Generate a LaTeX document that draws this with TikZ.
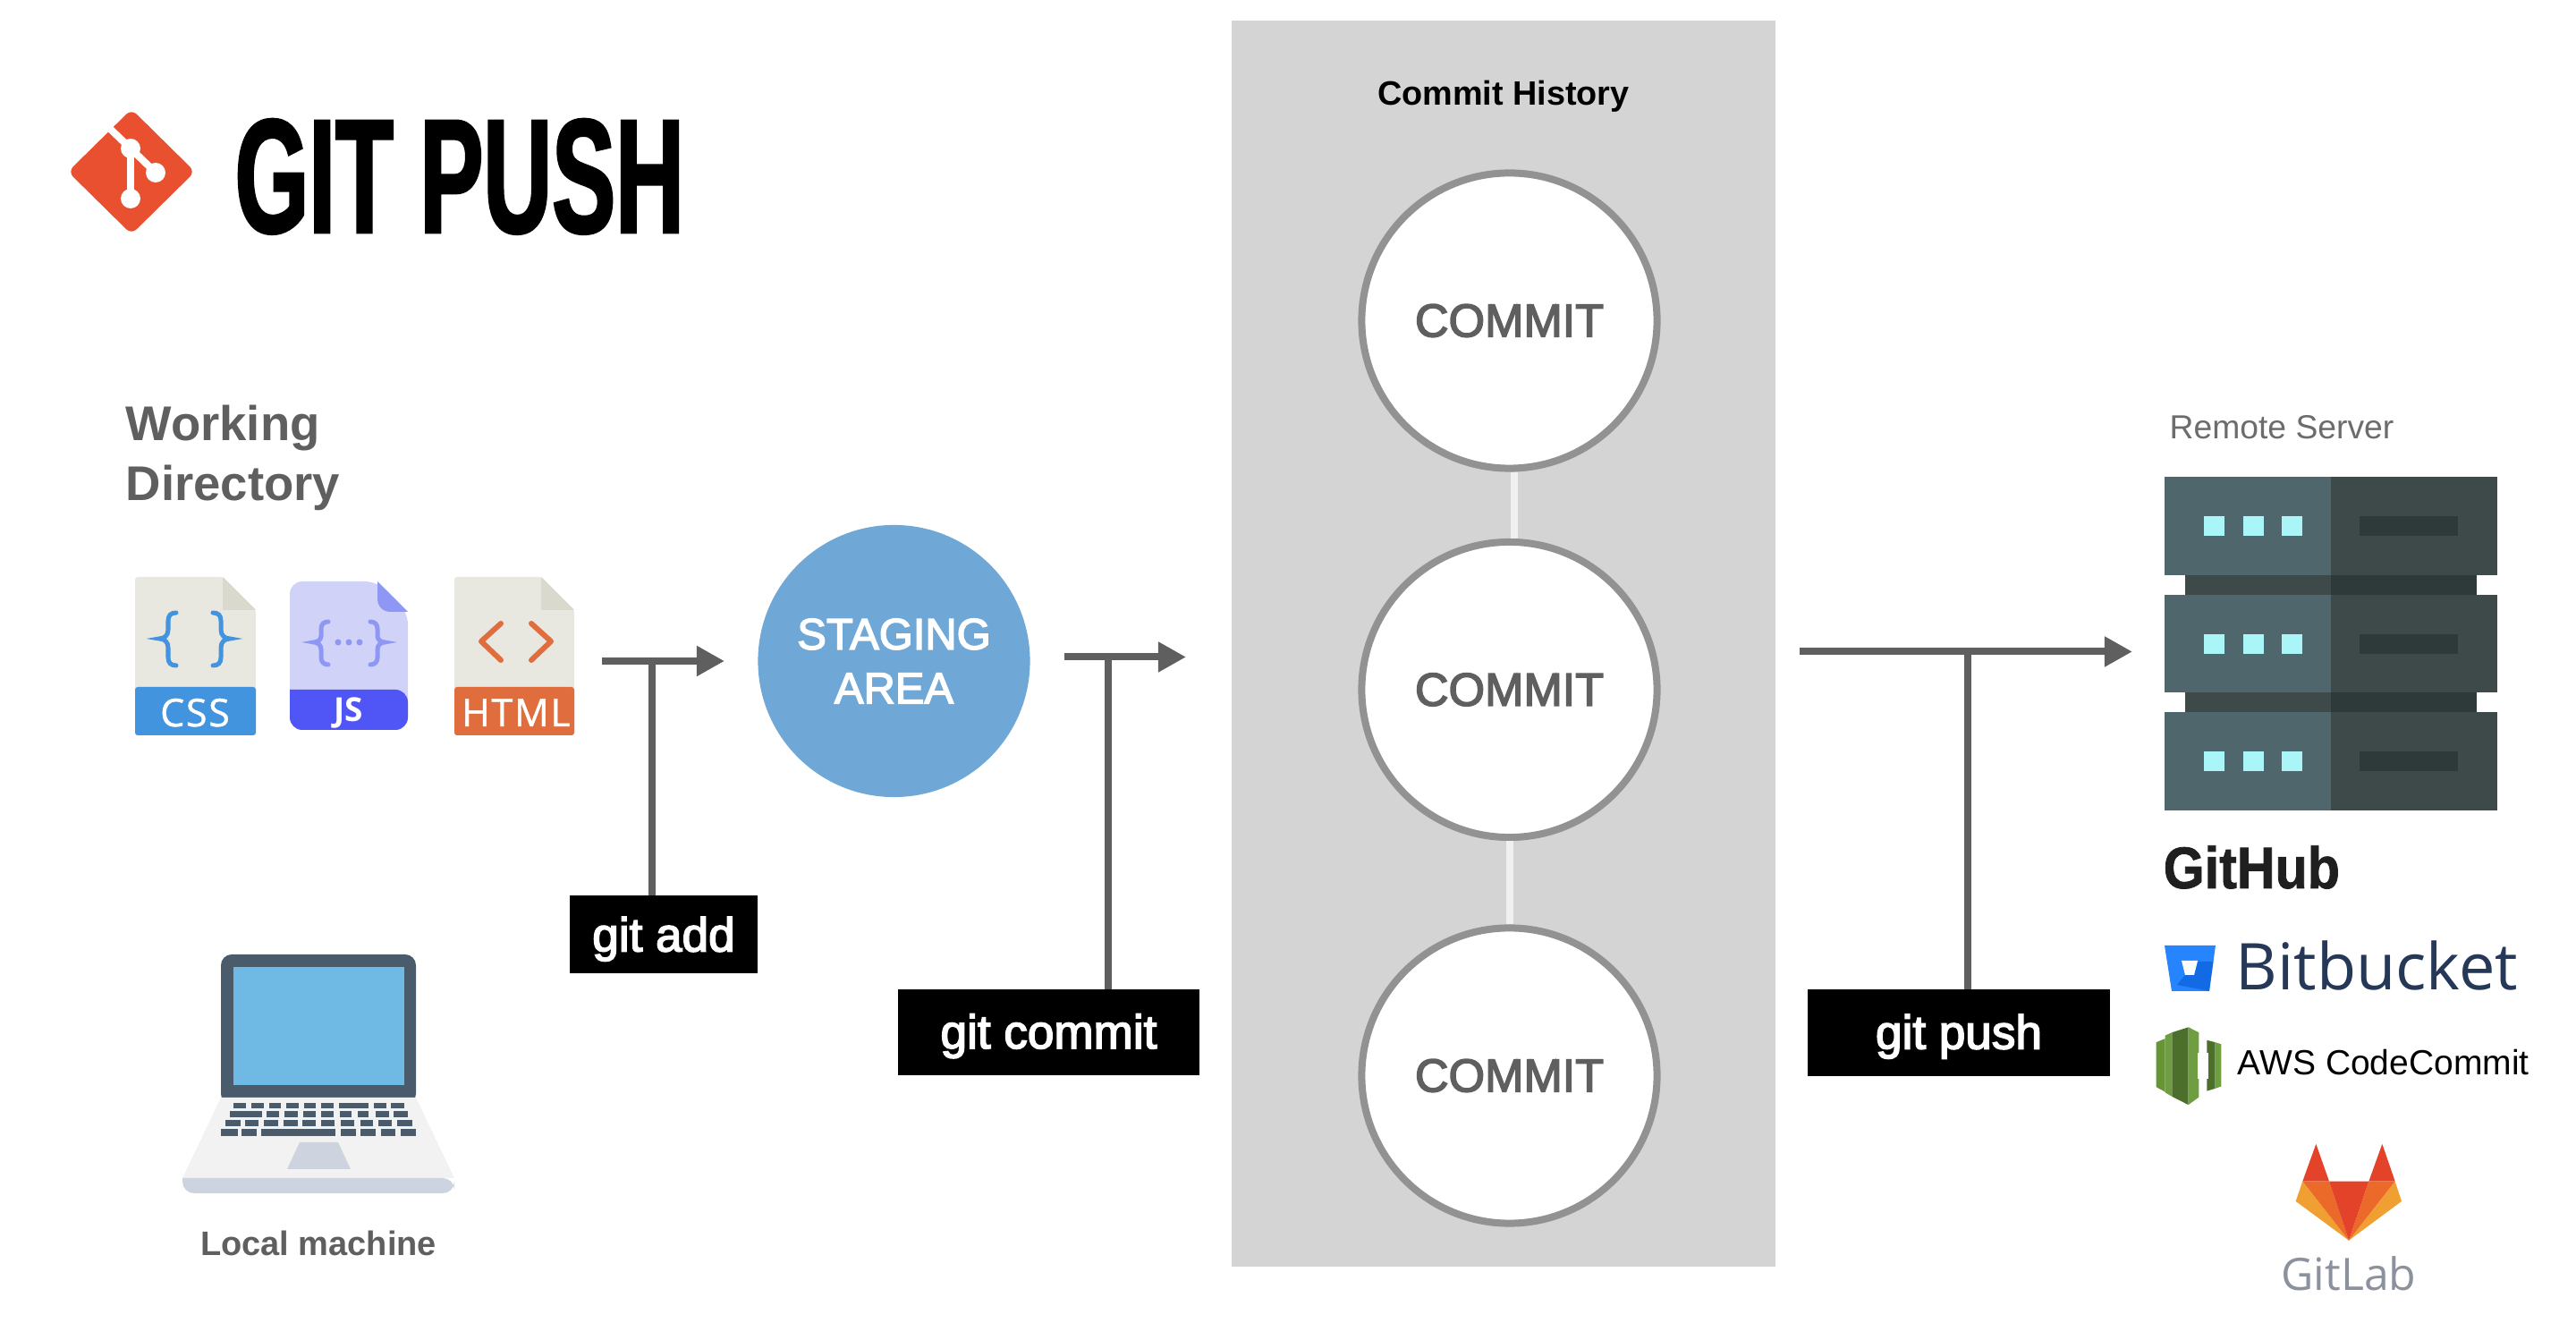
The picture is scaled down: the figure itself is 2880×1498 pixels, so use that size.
\documentclass[tikz,border=0pt]{standalone}
\usepackage{fontspec}
\setmainfont{Liberation Sans}
\newfontfamily\medfont[FakeBold=3]{Liberation Sans}
\newfontfamily\titlefont[FakeStretch=0.585,FakeBold=1.5]{Liberation Sans Bold}
\newfontfamily\hubfont[FakeStretch=0.9,FakeBold=1.2]{Liberation Sans Bold}
\newfontfamily\iconfont{Open Sans}
\newfontfamily\bandfont[LetterSpace=4,FakeBold=1]{Open Sans}
\usetikzlibrary{arrows.meta}
\definecolor{textgray}{HTML}{5F5F5F}
\definecolor{arrowgray}{HTML}{5F5F5F}
\definecolor{panelgray}{HTML}{D4D4D4}
\definecolor{ringgray}{HTML}{929292}
\definecolor{stageblue}{HTML}{6FA8D6}
\definecolor{gitred}{HTML}{E9502F}
\definecolor{filepaper}{HTML}{E8E8E1}
\definecolor{filefold}{HTML}{D9D9CE}
\definecolor{cssblue}{HTML}{4394DF}
\definecolor{htmlorange}{HTML}{DF6D3E}
\definecolor{jspaper}{HTML}{D0D2F7}
\definecolor{jsfold}{HTML}{8F97F5}
\definecolor{jsblue}{HTML}{5055F5}
\definecolor{laptopdark}{HTML}{4A5B6B}
\definecolor{laptopscreen}{HTML}{6FB9E5}
\definecolor{laptopbase}{HTML}{F2F2F2}
\definecolor{laptoplip}{HTML}{CDD4E0}
\definecolor{serverleft}{HTML}{50666D}
\definecolor{serverright}{HTML}{3E4A4A}
\definecolor{serverdark}{HTML}{2E3A3A}
\definecolor{serverlight}{HTML}{A9F5F8}
\definecolor{bitblue}{HTML}{2684FF}
\definecolor{bitdark}{HTML}{0052CC}
\definecolor{bitnavy}{HTML}{253858}
\definecolor{labred}{HTML}{E24329}
\definecolor{laborange}{HTML}{EB6A2A}
\definecolor{labyellow}{HTML}{F0A033}
\definecolor{labgray}{HTML}{8C929D}
\definecolor{awslight}{HTML}{6E9E3F}
\definecolor{awsmid}{HTML}{669536}
\definecolor{awsdark}{HTML}{4C6F2B}
\tikzset{
    commit/.style={circle, draw=ringgray, fill=white, line width=0.08cm, minimum size=3.30cm, inner sep=0pt,
        text=textgray, font=\medfont\fontsize{14.8}{18}\selectfont},
    commitlink/.style={draw=white!94!black, line width=0.08cm},
    gitbox/.style={fill=black, text=white, inner sep=0pt, text depth=0pt, font=\medfont\fontsize{15.1}{18}\selectfont},
    flow/.style={draw=arrowgray, line width=0.08cm, -{Triangle[length=0.31cm, width=0.32cm]}},
    stem/.style={draw=arrowgray, line width=0.08cm},
    heading/.style={anchor=base west, inner sep=0pt, text=textgray, font=\bfseries\fontsize{15.5}{19.1}\selectfont, align=left},
    bandtext/.style={anchor=base, inner sep=0pt, text=white, font=\bandfont\fontsize{12.2}{14}\selectfont},
    brace/.style={line width=0.05cm, line cap=round},
}
\begin{document}
\begin{tikzpicture}[x=0.01cm, y=-0.01cm]
    \useasboundingbox (0, 0) rectangle (2880, 1498);
    % title
    \fill[gitred, rounded corners=0.08cm] (147, 122) -- (218, 192) -- (147, 262) -- (76, 192) -- cycle;
    \draw[white, line width=0.08cm] (121, 142) -- (146, 166) -- (174, 193);
    \draw[white, line width=0.08cm] (146, 166) -- (146, 222);
    \fill[white] (146, 166) circle (11);
    \fill[white] (174, 193) circle (11);
    \fill[white] (146, 222) circle (11);
    \node[anchor=base west, inner sep=0pt, font=\titlefont\fontsize{51.7}{60}\selectfont] (title) at (262, 260) {GIT PUSH};
    % panel
    \node[fill=panelgray, inner sep=0pt, minimum width=6.08cm, minimum height=13.92cm] (panel) at (1681, 719.5) {};
    \node[anchor=base, inner sep=0pt, font=\bfseries\fontsize{10.75}{13}\selectfont] (historylabel) at (1681, 118) {Commit History};
    % commits
    \node[commit] (commita) at (1687.5, 358.5) {COMMIT};
    \node[commit] (commitb) at (1687.5, 771) {COMMIT};
    \node[commit] (commitc) at (1687.5, 1202.5) {COMMIT};
    \draw[commitlink] ([xshift=0.055cm]commita.south) -- ([xshift=0.055cm]commitb.north);
    \draw[commitlink] (commitb.south) -- (commitc.north);
    % working directory
    \node[heading] (workdir) at (140, 560) {Working\\Directory};
    % css file
    \fill[filepaper, rounded corners=0.03cm] (151, 645) -- (249, 645) -- (286, 682) -- (286, 822) -- (151, 822) -- cycle;
    \fill[filefold] (249, 645) -- (286, 682) -- (249, 682) -- cycle;
    \fill[cssblue, rounded corners=0.03cm] (151, 768) -- (286, 768) -- (286, 822) -- (151, 822) -- cycle;
    \draw[brace, cssblue] (197, 685) .. controls (191, 685) and (188, 688) .. (188, 694) -- (188, 704) .. controls (188, 710) and (184, 714) .. (178, 714) .. controls (184, 714) and (188, 718) .. (188, 724) -- (188, 735) .. controls (188, 741) and (191, 744) .. (197, 744);
    \draw[brace, cssblue] (238, 685) .. controls (244, 685) and (247, 688) .. (247, 694) -- (247, 704) .. controls (247, 710) and (251, 714) .. (257, 714) .. controls (251, 714) and (247, 718) .. (247, 724) -- (247, 735) .. controls (247, 741) and (244, 744) .. (238, 744);
    \node[bandtext] (csslabel) at (218, 812) {CSS};
    % js file
    \fill[jspaper, rounded corners=0.14cm] (324, 650) -- (422, 650) -- (456, 684) -- (456, 816) -- (324, 816) -- cycle;
    \fill[jsblue, rounded corners=0.14cm] (324, 771) -- (324, 816) -- (456, 816) -- (456, 771) [sharp corners] -- cycle;
    \fill[jsfold] (422, 650) -- (456, 684) -- (437, 684) .. controls (428, 684) and (422, 678) .. (422, 669) -- cycle;
    \draw[brace, jsfold] (367, 695) .. controls (362, 695) and (359, 698) .. (359, 703) -- (359, 711) .. controls (359, 715) and (355, 718) .. (351, 718) .. controls (355, 718) and (359, 721) .. (359, 726) -- (359, 735) .. controls (359, 740) and (362, 743) .. (367, 743);
    \draw[brace, jsfold] (414, 695) .. controls (419, 695) and (422, 698) .. (422, 703) -- (422, 711) .. controls (422, 715) and (426, 718) .. (430, 718) .. controls (426, 718) and (422, 721) .. (422, 726) -- (422, 735) .. controls (422, 740) and (419, 743) .. (414, 743);
    \foreach \dotx in {378, 390, 402} {
        \fill[jsfold] (\dotx, 718) circle (3.5);
    }
    \node[bandtext, font=\iconfont\bfseries\fontsize{10.5}{13}\selectfont] (jslabel) at (390, 807) {JS};
    % html file
    \fill[filepaper, rounded corners=0.03cm] (508, 645) -- (605, 645) -- (642, 682) -- (642, 822) -- (508, 822) -- cycle;
    \fill[filefold] (605, 645) -- (642, 682) -- (605, 682) -- cycle;
    \fill[htmlorange, rounded corners=0.03cm] (508, 768) -- (642, 768) -- (642, 822) -- (508, 822) -- cycle;
    \draw[htmlorange, line width=0.06cm, line cap=round, line join=round] (560, 697) -- (538, 717) -- (560, 738);
    \draw[htmlorange, line width=0.06cm, line cap=round, line join=round] (594, 697) -- (616, 717) -- (594, 738);
    \node[bandtext] (htmllabel) at (577, 812) {HTML};
    % staging area
    \node[circle, fill=stageblue, minimum size=3.04cm, inner sep=0pt, text=white, align=center,
        font=\medfont\fontsize{13.9}{17.2}\selectfont] (staging) at (999.5, 739) {STAGING\\AREA};
    % laptop
    \fill[laptopdark, rounded corners=0.12cm] (247, 1235) -- (247, 1067) -- (465, 1067) -- (465, 1235) -- cycle;
    \fill[laptopbase] (247, 1227) -- (465, 1227) -- (508, 1317) -- (204, 1317) -- cycle;
    \fill[laptopscreen] (261, 1081) rectangle (452, 1213);
    \fill[laptoplip, rounded corners=0.13cm] (204, 1317) -- (204, 1334) -- (508, 1334) -- (508, 1317) [sharp corners] -- cycle;
    \fill[laptoplip] (335, 1277) -- (378, 1277) -- (392, 1307) -- (321, 1307) -- cycle;
    \begin{scope}[shift={(180, 1050)}, scale=1/3]
        % keys
        \foreach \a/\b in {243/285, 303/345, 362/403, 420/462, 480/520, 537/578, 598/696, 714/755, 772/815} {
            \fill[laptopdark] (\a, 548) rectangle (\b, 568);
        }
        \foreach \a/\b in {232/338, 355/397, 415/458, 478/520, 537/580, 600/640, 660/697, 720/765, 780/828} {
            \fill[laptopdark] (\a, 577) rectangle (\b, 597);
        }
        \foreach \a/\b in {215/268, 283/328, 345/392, 410/458, 475/520, 537/583, 603/648, 668/712, 730/775, 792/842} {
            \fill[laptopdark] (\a, 606) rectangle (\b, 627);
        }
        \foreach \a/\b in {200/258, 270/322, 337/585, 603/653, 670/720, 738/787, 803/855} {
            \fill[laptopdark] (\a, 636) rectangle (\b, 660);
        }
    \end{scope}
    \node[anchor=base, inner sep=0pt, text=textgray, font=\bfseries\fontsize{10.8}{13}\selectfont] (locallabel) at (356, 1404) {Local machine};
    % commands
    \node[gitbox, minimum width=2.10cm, minimum height=0.86cm, text height=0.38cm] (gitadd) at (742, 1044.5) {git add};
    \node[gitbox, minimum width=3.37cm, minimum height=0.95cm, text height=0.36cm] (gitcommit) at (1172.5, 1154) {git commit};
    \node[gitbox, minimum width=3.385cm, minimum height=0.96cm, text height=0.36cm] (gitpush) at (2190, 1154.5) {git push};
    % arrows
    \coordinate (addstart) at (673, 739);
    \coordinate (addend) at (810, 739);
    \coordinate (addjoin) at (729, 739);
    \draw[flow] (addstart) -- (addend);
    \draw[stem] (addjoin) -- (addjoin |- gitadd.north);
    \coordinate (commitstart) at (1190, 734.5);
    \coordinate (commitend) at (1326, 734.5);
    \coordinate (commitjoin) at (1239, 734.5);
    \draw[flow] (commitstart) -- (commitend);
    \draw[stem] (commitjoin) -- (commitjoin |- gitcommit.north);
    \coordinate (pushstart) at (2012, 728.5);
    \coordinate (pushend) at (2384, 728.5);
    \coordinate (pushjoin) at (2199.5, 728.5);
    \draw[flow] (pushstart) -- (pushend);
    \draw[stem] (pushjoin) -- (pushjoin |- gitpush.north);
    % remote server
    \node[anchor=base west, inner sep=0pt, text=textgray!92!white, font=\fontsize{10.6}{13}\selectfont] (remotelabel) at (2425, 491) {Remote Server};
    \fill[serverright] (2443, 643) rectangle (2606, 665);
    \fill[serverdark] (2606, 643) rectangle (2769, 665);
    \fill[serverright] (2443, 774) rectangle (2606, 796);
    \fill[serverdark] (2606, 774) rectangle (2769, 796);
    \foreach \top/\bot/\lamp in {533/643/577, 665/774/709, 796/906/840} {
        \fill[serverleft] (2420, \top) rectangle (2606, \bot);
        \fill[serverright] (2606, \top) rectangle (2792, \bot);
        \fill[serverdark] (2638, \lamp) rectangle (2748, \lamp+22);
        \foreach \lampx in {2464, 2508, 2551} {
            \fill[serverlight] (\lampx, \lamp) rectangle (\lampx+23, \lamp+22);
        }
    }
    % github
    \node[anchor=base west, inner sep=0pt, text=black!88!white, font=\hubfont\fontsize{18.7}{22}\selectfont] (github) at (2418, 993) {GitHub};
    % bitbucket
    \fill[bitblue] (2420, 1057) -- (2477, 1057) -- (2470, 1108) -- (2428, 1108) -- cycle;
    \fill[bitdark, opacity=0.5] (2474.5, 1075) -- (2457, 1075) -- (2453, 1090) -- (2443, 1090) -- (2434, 1101) -- (2470, 1108) -- cycle;
    \fill[white] (2439, 1074) -- (2457, 1074) -- (2453, 1090) -- (2443, 1090) -- cycle;
    \node[anchor=base west, inner sep=0pt, text=bitnavy, font=\iconfont\fontsize{20.5}{24}\selectfont] (bitbucket) at (2499, 1107) {Bitbucket};
    % codecommit
    \begin{scope}[shift={(2380, 920)}, xscale=1/3, yscale=0.3444]
        \fill[awsmid] (92, 712) -- (122, 700) -- (122, 873) -- (92, 857) -- cycle;
        \fill[awslight] (122, 690) -- (145, 680) -- (145, 888) -- (122, 875) -- cycle;
        \fill[awsdark] (145, 680) -- (200, 663) -- (200, 915) -- (145, 888) -- cycle;
        \fill[awslight] (200, 663) -- (235, 680) -- (235, 890) -- (200, 915) -- cycle;
        \fill[awsdark] (262, 705) -- (290, 712) -- (290, 862) -- (262, 870) -- cycle;
        \fill[awslight] (290, 712) -- (310, 718) -- (310, 855) -- (290, 862) -- cycle;
        \fill[white] (232, 745) rectangle (268, 830);
    \end{scope}
    \node[anchor=base west, inner sep=0pt, font=\fontsize{11.1}{13}\selectfont] (codecommit) at (2501, 1202) {AWS CodeCommit};
    % gitlab
    \begin{scope}[shift={(2380, 920)}, xscale=1/3, yscale=0.3444]
        \fill[labred] (628, 1042) -- (672, 1163) -- (583, 1163) -- cycle;
        \fill[labred] (850, 1042) -- (893, 1163) -- (805, 1163) -- cycle;
        \fill[labyellow] (583, 1163) -- (560, 1228) -- (738, 1355) -- cycle;
        \fill[labyellow] (893, 1163) -- (915, 1228) -- (738, 1355) -- cycle;
        \fill[laborange] (583, 1163) -- (672, 1163) -- (738, 1355) -- cycle;
        \fill[laborange] (805, 1163) -- (893, 1163) -- (738, 1355) -- cycle;
        \fill[labred] (672, 1163) -- (805, 1163) -- (738, 1355) -- cycle;
    \end{scope}
    \node[anchor=base, inner sep=0pt, text=labgray, font=\iconfont\fontsize{14.2}{17}\selectfont] (gitlab) at (2626, 1443) {GitLab};
\end{tikzpicture}
\end{document}
